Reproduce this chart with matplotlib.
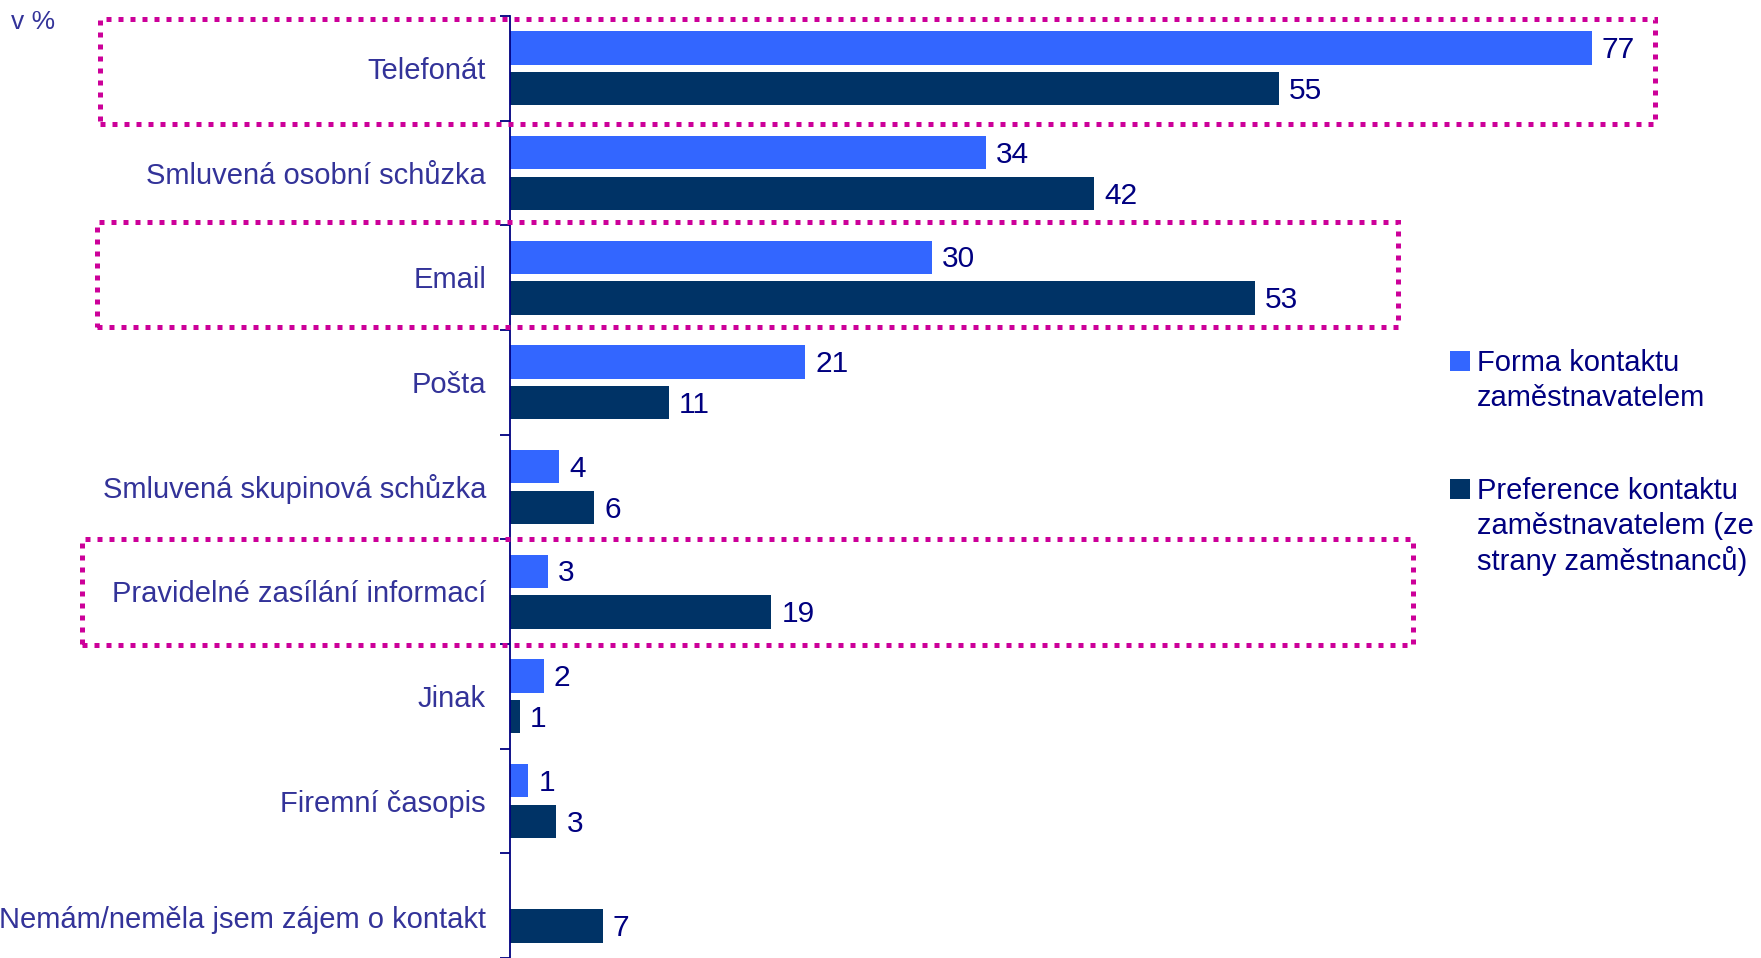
import numpy as np
import matplotlib
matplotlib.use("Agg")
import matplotlib.pyplot as plt
from matplotlib.patches import Rectangle
from matplotlib import transforms

plt.rcParams['font.family'] = ['Liberation Sans', 'DejaVu Sans']

# ---------------- data ----------------
categories = [
    "Telefonát",
    "Smluvená osobní schůzka",
    "Email",
    "Pošta",
    "Smluvená skupinová schůzka",
    "Pravidelné zasílání informací",
    "Jinak",
    "Firemní časopis",
    "Nemám/neměla jsem zájem o kontakt",
]
series_names = [
    "Forma kontaktu\nzaměstnavatelem",
    "Preference kontaktu\nzaměstnavatelem (ze\nstrany zaměstnanců)",
]
forma = [77, 33.9, 30.0, 21.0, 3.5, 2.7, 2.4, 1.3, np.nan]
preference = [54.7, 41.6, 53.0, 11.3, 6.0, 18.6, 0.7, 3.3, 6.6]
highlighted = ["Telefonát", "Email", "Pravidelné zasílání informací"]
unit_label = "v %"

# ---------------- style ----------------
W, H = 1761, 958
C_BLUE = "#3366FF"
C_DARK = "#003366"
C_NAVY = "#000080"
C_CAT = "#333399"
C_BOX = "#CC0099"
FS = 21
FS_VAL = 21.5

fig = plt.figure(figsize=(W / 100, H / 100), dpi=100)
fig.patch.set_facecolor("white")

def fx(px):
    return px / W

def fy(py):
    return 1 - py / H

ax_left, ax_top = 510, 16
ax = fig.add_axes([fx(ax_left), 0, fx(1124), (H - ax_top) / H])
ax.set_facecolor("none")

y = np.arange(len(categories))
off, bh = 0.195, 0.32
ax.barh(y - off, forma, height=bh, color=C_BLUE, zorder=2)
ax.barh(y + off, preference, height=bh, color=C_DARK, zorder=2)

for vals, dy in ((forma, -off), (preference, off)):
    for i, v in enumerate(vals):
        if np.isnan(v):
            continue
        ax.annotate(f"{v:.0f}", xy=(v, i + dy), xytext=(7.2, -1.6),
                    textcoords="offset points", va="center", ha="left",
                    fontsize=FS_VAL, color=C_NAVY, zorder=3)

ax.set_xlim(0, 80)
ax.set_ylim(len(categories) - 0.5, -0.5)

for s in ("top", "right", "bottom"):
    ax.spines[s].set_visible(False)
ax.spines["left"].set_color(C_NAVY)
ax.spines["left"].set_linewidth(1.3)
ax.set_xticks([])
ax.set_yticks(np.arange(-0.5, len(categories), 1.0))
ax.set_yticklabels([])
ax.tick_params(axis="y", direction="out", length=7.2, width=1.3, color=C_NAVY)

# category labels
ytrans = ax.get_yaxis_transform()
for i, cat in enumerate(categories):
    shift = 14 if i == len(categories) - 1 else 2.5
    tr = ytrans + transforms.ScaledTranslation(-24 / 100, -shift / 100, fig.dpi_scale_trans)
    ax.text(0, i, cat, transform=tr, ha="right", va="center",
            fontsize=FS, color=C_CAT, clip_on=False)

# highlight boxes (figure pixel extents: left, top, right, bottom)
box_px = {"Telefonát": (100, 19, 1655, 124),
          "Email": (97, 222, 1398, 327),
          "Pravidelné zasílání informací": (82, 539, 1413, 645)}
for cat in highlighted:
    x0, t, x1, b = box_px[cat]
    r = Rectangle((fx(x0), fy(b)), fx(x1 - x0), (b - t) / H,
                  transform=fig.transFigure,
                  fill=False, edgecolor=C_BOX, linewidth=3.6,
                  linestyle=(0, (1, 1.4)), zorder=5)
    r.set_capstyle("butt")
    fig.add_artist(r)

# legend (manual)
leg_sq_top = [351, 479]
line_pitch = 35.5
for k, (name, col) in enumerate(zip(series_names, [C_BLUE, C_DARK])):
    top = leg_sq_top[k]
    fig.add_artist(Rectangle((fx(1450), fy(top + 20)), fx(20), 20 / H,
                             transform=fig.transFigure, facecolor=col,
                             edgecolor="none"))
    for j, line in enumerate(name.split("\n")):
        fig.text(fx(1477), fy(top + 20 + j * line_pitch), line, ha="left",
                 va="baseline", fontsize=FS, color=C_NAVY)

fig.text(fx(11), fy(22), unit_label, ha="left", va="center", fontsize=19, color=C_CAT)

fig.savefig("out.png", dpi=100)
